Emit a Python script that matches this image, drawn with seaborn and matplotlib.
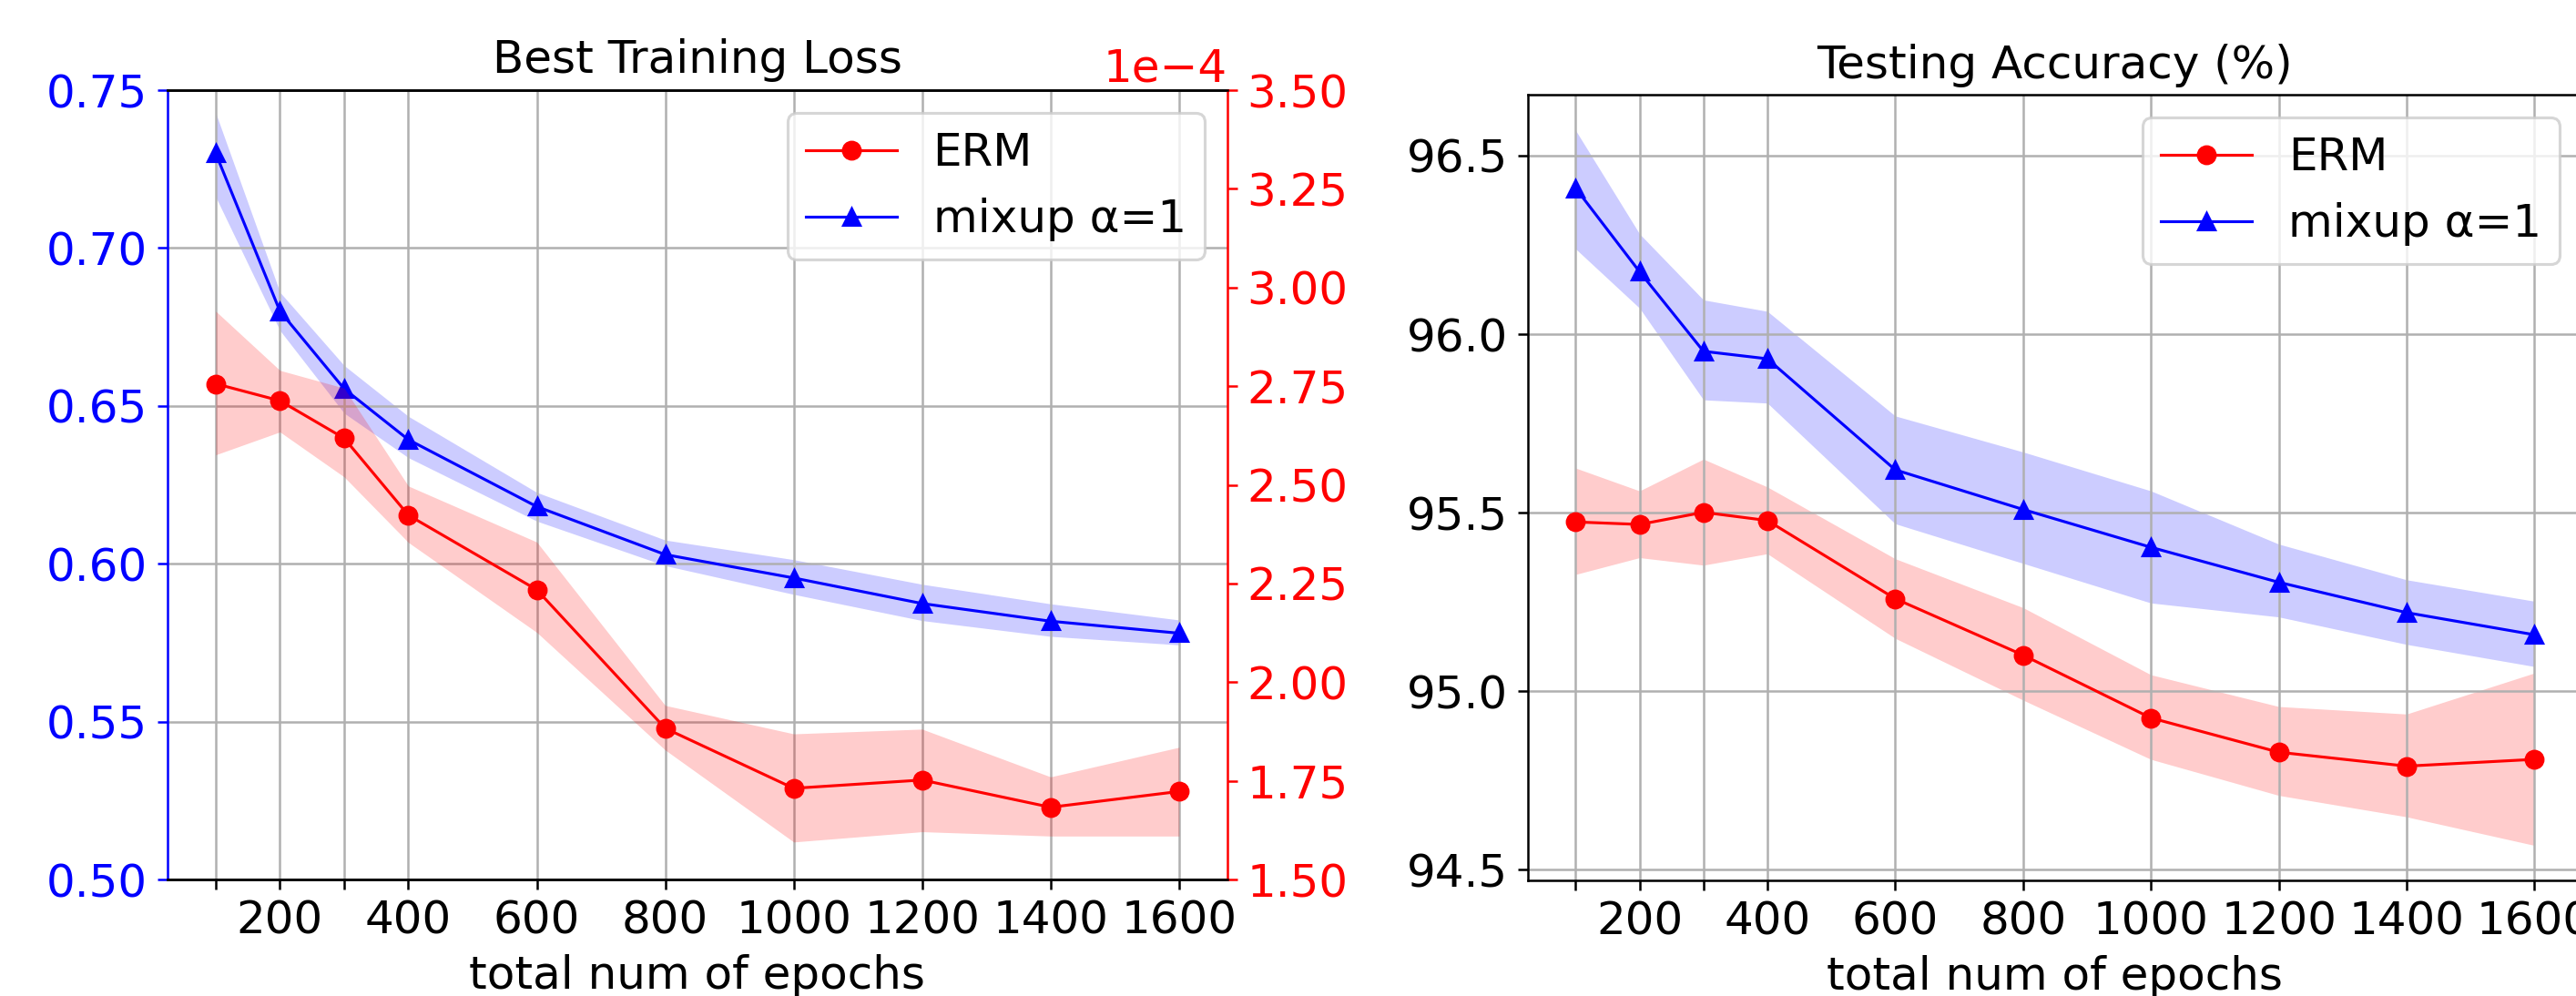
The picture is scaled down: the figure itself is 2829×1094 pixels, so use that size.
import matplotlib
matplotlib.use("Agg")
import matplotlib.pyplot as plt
import seaborn as sns

# ---------------- data ----------------
epochs = [100, 200, 300, 400, 600, 800, 1000, 1200, 1400, 1600]
xtick_labels = ["", "200", "", "400", "600", "800", "1000", "1200", "1400", "1600"]
acc_yticks = [94.5, 95.0, 95.5, 96.0, 96.5]

# Best training loss
erm_loss = [2.756e-4, 2.713e-4, 2.618e-4, 2.423e-4, 2.234e-4, 1.883e-4, 1.731e-4, 1.752e-4, 1.683e-4, 1.723e-4]
erm_loss_hi = [2.940e-4, 2.790e-4, 2.745e-4, 2.497e-4, 2.355e-4, 1.941e-4, 1.869e-4, 1.881e-4, 1.760e-4, 1.835e-4]
erm_loss_lo = [2.576e-4, 2.634e-4, 2.520e-4, 2.354e-4, 2.126e-4, 1.828e-4, 1.595e-4, 1.621e-4, 1.610e-4, 1.610e-4]

mix_loss = [0.730, 0.680, 0.6554, 0.6393, 0.6181, 0.6029, 0.5955, 0.5874, 0.5818, 0.5780]
mix_loss_hi = [0.7428, 0.6860, 0.6628, 0.6467, 0.6226, 0.6075, 0.6013, 0.5935, 0.5873, 0.5822]
mix_loss_lo = [0.7162, 0.6739, 0.6477, 0.6336, 0.6135, 0.5994, 0.5903, 0.5820, 0.5770, 0.5743]

# Testing accuracy (%)
erm_acc = [95.474, 95.467, 95.501, 95.478, 95.259, 95.101, 94.925, 94.829, 94.790, 94.809]
erm_acc_hi = [95.625, 95.561, 95.650, 95.572, 95.371, 95.234, 95.046, 94.957, 94.936, 95.051]
erm_acc_lo = [95.327, 95.374, 95.353, 95.385, 95.148, 94.975, 94.809, 94.708, 94.648, 94.568]

mix_acc = [96.409, 96.175, 95.952, 95.931, 95.620, 95.509, 95.403, 95.305, 95.220, 95.158]
mix_acc_hi = [96.571, 96.281, 96.096, 96.064, 95.771, 95.670, 95.561, 95.412, 95.312, 95.252]
mix_acc_lo = [96.239, 96.073, 95.816, 95.807, 95.469, 95.358, 95.247, 95.208, 95.131, 95.069]

# ---------------- style ----------------
FS = 16
plt.rcParams.update({
    "font.family": ["DejaVu Sans"],
    "font.size": FS,
    "axes.titlesize": FS,
    "axes.labelsize": FS,
    "xtick.labelsize": FS,
    "ytick.labelsize": FS,
    "legend.fontsize": FS,
    "grid.color": "#b0b0b0",
})

DPI = 225
fig = plt.figure(figsize=(2829 / DPI, 1094 / DPI), dpi=DPI)
ax1 = fig.add_axes([0.06504, 0.11700, 0.41135, 0.79250])
ax3 = fig.add_axes([0.59304, 0.11609, 0.40944, 0.78857])

line_kw = dict(linewidth=1.0, markersize=6, markeredgewidth=1.0, legend=False)

# ---------------- left: best training loss ----------------
ax1.grid(True)
ax1.fill_between(epochs, mix_loss_lo, mix_loss_hi, color="b", alpha=0.2, linewidth=0)
sns.lineplot(x=epochs, y=mix_loss, ax=ax1, color="b", marker="^", markeredgecolor="b",
             label="mixup α=1", **line_kw)
ax1.set_ylim(0.50, 0.75)
ax1.set_xlim(25, 1675)
ax1.set_xticks(epochs)
ax1.set_xticklabels(xtick_labels)
ax1.tick_params(axis="y", colors="b")
ax1.spines["left"].set_color("b")
ax1.spines["right"].set_visible(False)
ax1.set_xlabel("total num of epochs")
ax1.set_title("Best Training Loss")

ax2 = ax1.twinx()
ax2.fill_between(epochs, erm_loss_lo, erm_loss_hi, color="r", alpha=0.2, linewidth=0)
sns.lineplot(x=epochs, y=erm_loss, ax=ax2, color="r", marker="o", markeredgecolor="r",
             label="ERM", **line_kw)
ax2.set_ylim(1.5e-4, 3.5e-4)
ax2.set_xlim(25, 1675)
ax2.ticklabel_format(axis="y", style="sci", scilimits=(0, 0))
ax2.tick_params(axis="y", colors="r")
ax2.yaxis.get_offset_text().set_color("r")
ax2.yaxis.get_offset_text().set_fontsize(FS)
ax2.spines["right"].set_color("r")
ax2.spines["left"].set_visible(False)
ax2.set_ylabel("")
ax2.grid(False)

h1, l1 = ax1.get_legend_handles_labels()
h2, l2 = ax2.get_legend_handles_labels()
ax2.legend(h2 + h1, l2 + l1, loc="upper right")

# ---------------- right: testing accuracy ----------------
ax3.grid(True)
ax3.fill_between(epochs, erm_acc_lo, erm_acc_hi, color="r", alpha=0.2, linewidth=0)
ax3.fill_between(epochs, mix_acc_lo, mix_acc_hi, color="b", alpha=0.2, linewidth=0)
sns.lineplot(x=epochs, y=erm_acc, ax=ax3, color="r", marker="o", markeredgecolor="r",
             label="ERM", **line_kw)
sns.lineplot(x=epochs, y=mix_acc, ax=ax3, color="b", marker="^", markeredgecolor="b",
             label="mixup α=1", **line_kw)
ax3.set_xlim(25, 1675)
ax3.set_ylim(94.47, 96.67)
ax3.set_yticks(acc_yticks)
ax3.set_xticks(epochs)
ax3.set_xticklabels(xtick_labels)
ax3.set_xlabel("total num of epochs")
ax3.set_title("Testing Accuracy (%)")
ax3.legend(loc="upper right")

fig.savefig("out.png", dpi=DPI)
